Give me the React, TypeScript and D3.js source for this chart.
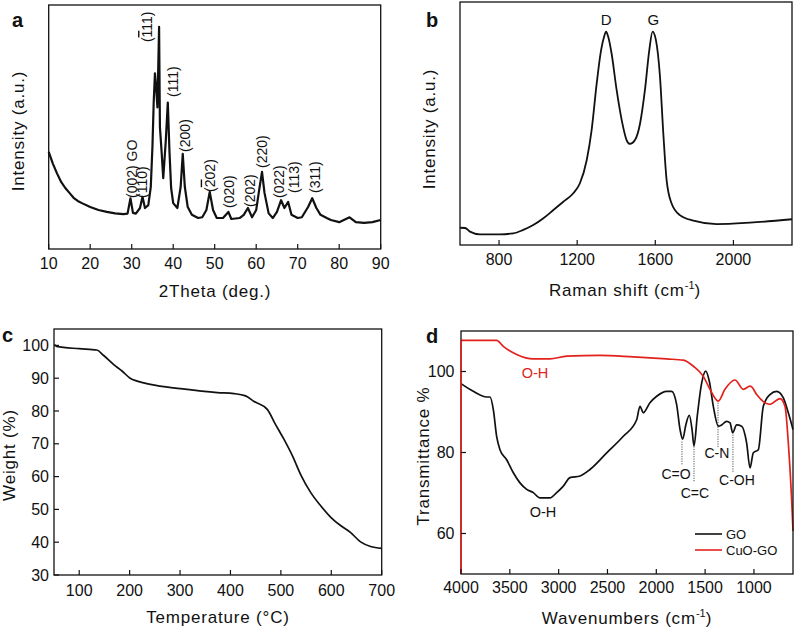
import React from "react";
import * as d3 from "d3";

// ---------- Panel a: XRD ----------
const xrdX = [10, 11, 12, 13, 14, 15, 16, 17, 18, 20, 22, 24, 26, 28, 29, 29.7, 30.3, 31, 32, 32.6, 33.2, 34, 34.6, 35, 35.3, 35.6, 35.9, 36.2, 36.6, 36.8, 37.2, 37.6, 38.2, 38.7, 39.1, 39.5, 40, 41, 41.8, 42.3, 42.8, 43.5, 44.5, 46, 47, 48, 48.8, 49.6, 50.5, 52, 53.3, 54, 56, 57, 58, 59, 60, 60.7, 61.4, 62, 63, 64, 65, 66, 66.8, 67.7, 68.5, 70, 71, 72.5, 73.5, 74.5, 75.5, 77, 78, 80, 82.5, 84, 86, 88, 90];
const xrdY = [39.8, 35, 31, 27.5, 25, 23, 21, 19.7, 18.8, 17.2, 16, 15.2, 14.6, 14.3, 14.5, 20.8, 14.8, 14.5, 16.8, 21.4, 16.8, 18, 25.5, 42, 60, 72, 66, 58, 91, 50, 40, 29, 44, 60, 40, 25, 18.8, 16.8, 25.5, 39, 25.5, 17.2, 14, 12.7, 13, 16, 23.4, 16, 12.7, 12.7, 15.2, 12.3, 12.7, 14, 16.8, 13, 16, 24, 31.6, 23, 14.6, 12.7, 15.2, 20, 16.8, 19.3, 14, 12.7, 13, 17.2, 20.8, 16.8, 14, 12.7, 11.9, 11, 13, 11, 10.7, 11, 11.9];
const xrdTicks = [10, 20, 30, 40, 50, 60, 70, 80, 90];
const xrdPeakText = ["(002) GO", "(110)", "(111)", "(111)", "(200)", "(202)", "(020)", "(202)", "(220)", "(022)", "(113)", "(311)"];
const xrdPeakBar = [-1, -1, 1, -1, -1, 1, -1, -1, -1, -1, -1, -1];
const xrdPeakLabelX = [30.1, 32.5, 33.7, 40, 42.8, 48.8, 53.4, 58.5, 61.4, 65.5, 69.1, 74.2];
const xrdPeakLabelY = [20.9, 20.9, 84.8, 62.3, 39.8, 23.4, 16.8, 17.2, 33.2, 20.9, 23, 23];

// ---------- Panel b: Raman ----------
const ramanX = [600, 626, 651, 702, 805, 873, 924, 975, 1027, 1078, 1129, 1180, 1214, 1249, 1274, 1300, 1322, 1337, 1348, 1359, 1376, 1402, 1428, 1453, 1470, 1496, 1522, 1547, 1569, 1586, 1603, 1624, 1641, 1658, 1683, 1726, 1795, 1914, 2085, 2300];
const ramanY = [7.1, 7, 5.5, 4.4, 4.4, 4.8, 6.2, 8.2, 11, 14.4, 17.8, 21.3, 25.4, 35, 47.3, 66.5, 80, 85.5, 87.8, 85.7, 78.9, 63.8, 51.4, 43.2, 41.6, 43.2, 50, 63.8, 80, 87.8, 84.4, 69.3, 46, 26.7, 17.2, 12.3, 10, 8.6, 9.2, 10.6];
const ramanTicks = [800, 1200, 1600, 2000];
const ramanPeakText = ["D", "G"];
const ramanPeakX = [1348, 1590];
const ramanPeakY = [90.5, 90.5];

// ---------- Panel c: TGA ----------
const tgaX = [51, 55, 100, 135, 148, 168, 185, 201, 215, 241, 301, 374, 407, 430, 446, 473, 489, 506, 523, 539, 559, 579, 599, 619, 638, 658, 678, 700];
const tgaY = [100.3, 99.7, 99, 98.6, 97, 94.2, 92.2, 90, 89.1, 88.1, 86.8, 85.6, 85.3, 84.6, 83, 80.5, 76, 71.4, 66.3, 60.7, 55.2, 51.1, 47.6, 45, 43, 40.1, 38.7, 38.1];
const tgaXTicks = [100, 200, 300, 400, 500, 600, 700];
const tgaYTicks = [30, 40, 50, 60, 70, 80, 90, 100];

// ---------- Panel d: FTIR ----------
const goX = [4000, 3874, 3737, 3703, 3669, 3635, 3601, 3532, 3464, 3396, 3327, 3260, 3191, 3089, 3020, 2952, 2884, 2781, 2679, 2508, 2338, 2201, 2167, 2133, 2065, 1996, 1894, 1843, 1792, 1757, 1730, 1696, 1662, 1634, 1614, 1580, 1535, 1494, 1457, 1416, 1365, 1331, 1280, 1245, 1218, 1177, 1126, 1075, 1040, 1007, 955, 904, 836, 767, 699, 648, 600];
const goY = [97, 95.1, 93.7, 93.7, 90.6, 84, 80.7, 78.2, 75, 72.5, 70.9, 70.1, 68.8, 68.8, 70.1, 71.7, 73.8, 74.2, 75.8, 79.9, 84, 88.1, 91.4, 89.8, 92.3, 93.9, 95.1, 95.1, 91.9, 85.7, 83.3, 87, 89.2, 85.7, 81.6, 89.1, 97.2, 100.1, 97.6, 91.4, 86.5, 86.8, 87.7, 87.3, 84.9, 86.8, 86.5, 82.4, 76.2, 79.9, 80.7, 91.4, 94.3, 95.1, 93.5, 89.8, 85.7];
const cuoX = [4000, 3635, 3567, 3430, 3260, 3089, 2918, 2577, 2235, 1894, 1723, 1620, 1518, 1450, 1365, 1297, 1194, 1109, 1040, 1023, 972, 836, 733, 682, 648, 614, 600];
const cuoY = [107.7, 107.7, 106.2, 104.2, 103.1, 103.1, 103.8, 104, 103.6, 103.1, 102.8, 101.3, 98.8, 95.6, 92.7, 95.6, 97.9, 95.6, 96.4, 96.2, 94.3, 91.9, 93.3, 91.4, 82.4, 68.4, 60.6];
const ftirXTicks = [4000, 3500, 3000, 2500, 2000, 1500, 1000];
const ftirYTicks = [60, 80, 100];
const bandText = ["C=O", "C=C", "C-N", "C-OH"];
const bandX = [1737, 1614, 1368, 1215];
const bandTop = [82.7, 81.5, 92.3, 85];
const bandBottom = [77, 72.6, 81.2, 75];
const bandLabelX = [1798, 1604, 1379, 1174];
const bandLabelY = [74.8, 70.1, 79.8, 73.1];
const ohText = ["O-H", "O-H"];
const ohX = [3242, 3160];
const ohY = [99.75, 65.4];
const legendNames = ["GO", "CuO-GO"];

const FONT = "'Liberation Sans', Arial, Helvetica, sans-serif";
const RED = "#e3211c";
const INK = "#111";

const zip = (xs: number[], ys: number[]) => xs.map((x, i) => [x, ys[i]] as [number, number]);

type Box = { x0: number; x1: number; y0: number; y1: number };

function Frame({ b }: { b: Box }) {
  return <rect x={b.x0} y={b.y0} width={b.x1 - b.x0} height={b.y1 - b.y0} fill="none" stroke={INK} strokeWidth={1.3} />;
}

function XTicks({ sx, ticks, b, dy }: { sx: any; ticks: number[]; b: Box; dy: number }) {
  return (
    <g>
      {ticks.map((t) => (
        <g key={t}>
          <line x1={sx(t)} x2={sx(t)} y1={b.y1} y2={b.y1 - 5} stroke={INK} strokeWidth={1.2} />
          <text x={sx(t)} y={b.y1 + dy} textAnchor="middle" fontSize={16} fontFamily={FONT} fill={INK}>{t}</text>
        </g>
      ))}
    </g>
  );
}

function YTicks({ sy, ticks, b, dx }: { sy: any; ticks: number[]; b: Box; dx: number }) {
  return (
    <g>
      {ticks.map((t) => (
        <g key={t}>
          <line x1={b.x0} x2={b.x0 + 5} y1={sy(t)} y2={sy(t)} stroke={INK} strokeWidth={1.2} />
          <text x={b.x0 - dx} y={sy(t)} textAnchor="end" dominantBaseline="central" fontSize={16} fontFamily={FONT} fill={INK}>{t}</text>
        </g>
      ))}
    </g>
  );
}

function YTitle({ x, y, children }: { x: number; y: number; children: any }) {
  return (
    <text transform={`translate(${x},${y}) rotate(-90)`} textAnchor="middle" fontSize={17} letterSpacing={0.8} fontFamily={FONT} fill={INK}>{children}</text>
  );
}

function XTitle({ x, y, children }: { x: number; y: number; children: any }) {
  return (
    <text x={x} y={y} textAnchor="middle" fontSize={17} letterSpacing={0.8} fontFamily={FONT} fill={INK}>{children}</text>
  );
}

function PanelLetter({ x, y, t }: { x: number; y: number; t: string }) {
  return <text x={x} y={y} fontSize={20} fontWeight="bold" fontFamily={FONT} fill={INK}>{t}</text>;
}

function PanelA() {
  const b: Box = { x0: 48.7, x1: 380.7, y0: 5, y1: 249 };
  const sx = d3.scaleLinear().domain([10, 90]).range([b.x0, b.x1]);
  const sy = d3.scaleLinear().domain([0, 100]).range([b.y1, b.y0]);
  const line = d3.line<[number, number]>().x((d) => sx(d[0])).y((d) => sy(d[1]));
  return (
    <g>
      <path d={line(zip(xrdX, xrdY)) || ""} fill="none" stroke={INK} strokeWidth={2.2} strokeLinejoin="round" />
      {xrdPeakText.map((t, i) => {
        const bi = xrdPeakBar[i];
        return (
          <text key={i} transform={`translate(${sx(xrdPeakLabelX[i])},${sy(xrdPeakLabelY[i])}) rotate(-90)`} dominantBaseline="central" fontSize={14} fontFamily={FONT} fill={INK}>
            {bi < 0 ? t : (
              <>
                <tspan>{t.slice(0, bi)}</tspan>
                <tspan style={{ textDecoration: "overline" }}>{t.slice(bi, bi + 1)}</tspan>
                <tspan>{t.slice(bi + 1)}</tspan>
              </>
            )}
          </text>
        );
      })}
      <Frame b={b} />
      <XTicks sx={sx} ticks={xrdTicks} b={b} dy={20} />
      <YTitle x={24} y={131}>Intensity (a.u.)</YTitle>
      <XTitle x={215} y={297}>2Theta (deg.)</XTitle>
      <PanelLetter x={12} y={27} t="a" />
    </g>
  );
}

function PanelB() {
  const b: Box = { x0: 460, x1: 792, y0: 2, y1: 245 };
  const sx = d3.scaleLinear().domain([600, 2300]).range([b.x0, b.x1]);
  const sy = d3.scaleLinear().domain([0, 100]).range([b.y1, b.y0]);
  const line = d3.line<[number, number]>().x((d) => sx(d[0])).y((d) => sy(d[1])).curve(d3.curveMonotoneX);
  return (
    <g>
      <path d={line(zip(ramanX, ramanY)) || ""} fill="none" stroke={INK} strokeWidth={1.8} />
      {ramanPeakText.map((t, i) => (
        <text key={t} x={sx(ramanPeakX[i])} y={sy(ramanPeakY[i])} textAnchor="middle" fontSize={15} fontFamily={FONT} fill={INK}>{t}</text>
      ))}
      <Frame b={b} />
      <XTicks sx={sx} ticks={ramanTicks} b={b} dy={19.5} />
      <YTitle x={435} y={129}>Intensity (a.u.)</YTitle>
      <XTitle x={625} y={296}>
        <tspan>Raman shift (cm</tspan>
        <tspan dy={-7} fontSize={11} letterSpacing={0}>-1</tspan>
        <tspan dy={7}>)</tspan>
      </XTitle>
      <PanelLetter x={426} y={27} t="b" />
    </g>
  );
}

function PanelC() {
  const b: Box = { x0: 54, x1: 381.7, y0: 329, y1: 575 };
  const sx = d3.scaleLinear().domain([50, 700]).range([b.x0, b.x1]);
  const sy = d3.scaleLinear().domain([30, 105]).range([b.y1, b.y0]);
  const line = d3.line<[number, number]>().x((d) => sx(d[0])).y((d) => sy(d[1])).curve(d3.curveMonotoneX);
  return (
    <g>
      <path d={line(zip(tgaX, tgaY)) || ""} fill="none" stroke={INK} strokeWidth={1.7} />
      <Frame b={b} />
      <XTicks sx={sx} ticks={tgaXTicks} b={b} dy={21} />
      <YTicks sy={sy} ticks={tgaYTicks} b={b} dx={5} />
      <YTitle x={15} y={455}>Weight (%)</YTitle>
      <XTitle x={218} y={623}>Temperature (°C)</XTitle>
      <PanelLetter x={2} y={342} t="c" />
    </g>
  );
}

function PanelD() {
  const b: Box = { x0: 461, x1: 793, y0: 331, y1: 574 };
  const sx = d3.scaleLinear().domain([4000, 600]).range([b.x0, b.x1]);
  const sy = d3.scaleLinear().domain([50, 110]).range([b.y1, b.y0]);
  const line = d3.line<[number, number]>().x((d) => sx(d[0])).y((d) => sy(d[1])).curve(d3.curveMonotoneX);
  return (
    <g>
      {bandText.map((t, i) => (
        <line key={"l" + i} x1={sx(bandX[i])} x2={sx(bandX[i])} y1={sy(bandTop[i])} y2={sy(bandBottom[i])} stroke="#555" strokeWidth={1} strokeDasharray="1.2,1.2" />
      ))}
      <path d={line(zip(goX, goY)) || ""} fill="none" stroke={INK} strokeWidth={1.7} />
      <path d={line(zip(cuoX, cuoY)) || ""} fill="none" stroke={RED} strokeWidth={1.7} />
      <Frame b={b} />
      <line x1={b.x0} x2={b.x0} y1={b.y1} y2={sy(cuoY[0])} stroke={RED} strokeWidth={1.6} />
      {bandText.map((t, i) => (
        <text key={"t" + i} x={sx(bandLabelX[i])} y={sy(bandLabelY[i])} textAnchor="middle" dominantBaseline="central" fontSize={14} fontFamily={FONT} fill={INK}>{t}</text>
      ))}
      {ohText.map((t, i) => (
        <text key={"o" + i} x={sx(ohX[i])} y={sy(ohY[i])} textAnchor="middle" dominantBaseline="central" fontSize={14.5} fontFamily={FONT} fill={i === 0 ? RED : INK}>{t}</text>
      ))}
      {legendNames.map((n, i) => (
        <g key={n}>
          <line x1={695} x2={722} y1={534 + i * 16} y2={534 + i * 16} stroke={i === 0 ? INK : RED} strokeWidth={1.6} />
          <text x={726} y={534 + i * 16} dominantBaseline="central" fontSize={13} fontFamily={FONT} fill={INK}>{n}</text>
        </g>
      ))}
      <XTicks sx={sx} ticks={ftirXTicks} b={b} dy={18.5} />
      <YTicks sy={sy} ticks={ftirYTicks} b={b} dx={6.5} />
      <YTitle x={429} y={456}>Transmittance %</YTitle>
      <XTitle x={627} y={624}>
        <tspan>Wavenumbers (cm</tspan>
        <tspan dy={-7} fontSize={11} letterSpacing={0}>-1</tspan>
        <tspan dy={7}>)</tspan>
      </XTitle>
      <PanelLetter x={426} y={343} t="d" />
    </g>
  );
}

export default function App() {
  return (
    <svg width={797} height={630} viewBox="0 0 797 630" style={{ position: "absolute", left: 0, top: 0, background: "#fff" }}>
      <rect x={0} y={0} width={797} height={630} fill="#fff" />
      <PanelA />
      <PanelB />
      <PanelC />
      <PanelD />
    </svg>
  );
}
